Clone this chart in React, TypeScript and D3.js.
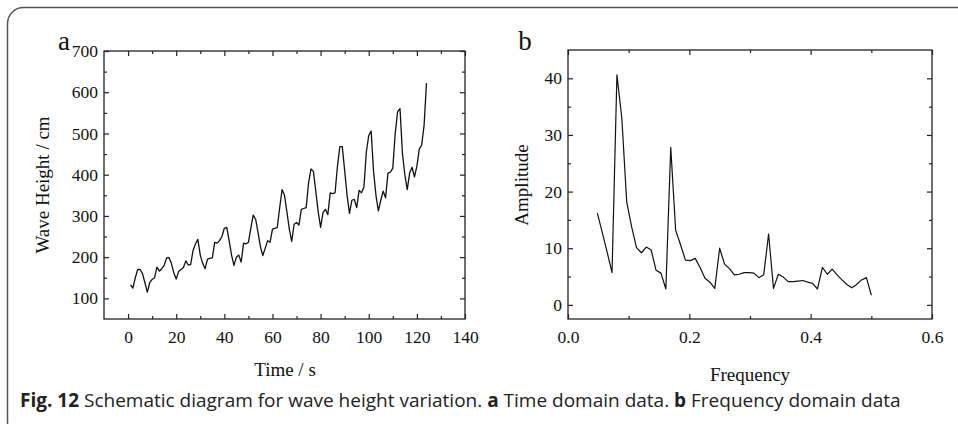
import React, { useEffect, useRef } from "react";
import * as d3 from "d3";

// wave height (cm) sampled once per second, t = 1..124
const waveHeight = [
  133, 125, 150, 170, 170, 160, 138, 115, 138, 146,
  150, 176, 166, 172, 180, 198, 199, 185, 162, 147,
  165, 170, 175, 191, 181, 182, 216, 232, 243, 205,
  185, 172, 195, 197, 198, 236, 234, 240, 250, 270,
  272, 240, 205, 180, 200, 205, 188, 234, 232, 236,
  270, 302, 292, 260, 225, 204, 222, 240, 236, 268,
  270, 272, 320, 364, 350, 310, 268, 238, 280, 284,
  278, 316, 318, 320, 380, 414, 408, 360, 310, 272,
  308, 316, 303, 356, 354, 356, 420, 468, 468, 410,
  350, 306, 338, 340, 320, 362, 356, 370, 455, 495,
  506, 408, 350, 312, 338, 360, 344, 404, 406, 416,
  500, 553, 560, 452, 400, 364, 404, 418, 395, 420,
  462, 472, 520, 622
];
const timeStart = 1;

// spectrum amplitude, frequency = k / 124 for k = 6..62
const ampStartIndex = 6;
const sampleCount = 124;
const amplitude = [
  16.2, 12.8, 9.3, 5.7, 40.6, 33.0, 18.2, 13.8, 10.1, 9.2,
  10.2, 9.7, 6.1, 5.6, 2.8, 27.8, 13.2, 10.6, 7.9, 7.8,
  8.2, 6.6, 4.7, 4.0, 2.9, 10.0, 7.2, 6.4, 5.3, 5.4,
  5.7, 5.7, 5.6, 4.8, 5.3, 12.5, 2.9, 5.4, 4.9, 4.1,
  4.1, 4.2, 4.3, 4.0, 3.8, 2.8, 6.6, 5.4, 6.3, 5.3,
  4.4, 3.6, 3.0, 3.6, 4.4, 4.8, 1.7
];

const timeMajor = [0, 20, 40, 60, 80, 100, 120, 140];
const timeMinor = [10, 30, 50, 70, 90, 110, 130];
const heightMajor = [100, 200, 300, 400, 500, 600, 700];
const heightMinor = [150, 250, 350, 450, 550, 650];
const freqMajor = [0.0, 0.2, 0.4, 0.6];
const freqMinor = [0.1, 0.3, 0.5];
const ampMajor = [0, 10, 20, 30, 40];
const ampMinor = [5, 15, 25, 35];

const serif = "'Liberation Serif', 'DejaVu Serif', serif";

function drawPanel(g, cfg) {
  const { x, y, xMajor, xMinor, yMajor, yMinor, xFormat, yFormat } = cfg;
  const [x0, x1] = x.range();
  const [y0, y1] = y.range();

  // frame
  g.append("rect")
    .attr("x", x0)
    .attr("y", y1)
    .attr("width", x1 - x0)
    .attr("height", y0 - y1)
    .attr("fill", "none")
    .attr("stroke", "#222")
    .attr("stroke-width", 1.3);

  const style = (sel) => {
    sel.select(".domain").remove();
    sel.selectAll("line").attr("stroke", "#222").attr("stroke-width", 1.2);
    sel.selectAll("text").attr("font-family", serif).attr("font-size", 17.5).attr("fill", "#111");
  };

  // bottom & left with labels, inward ticks
  g.append("g")
    .attr("transform", `translate(0,${y0})`)
    .call(d3.axisBottom(x).tickValues(xMajor).tickSize(-5).tickSizeOuter(0).tickPadding(12).tickFormat(xFormat))
    .call(style);
  g.append("g")
    .attr("transform", `translate(0,${y0})`)
    .call(d3.axisBottom(x).tickValues(xMinor).tickSize(-3).tickSizeOuter(0).tickFormat(() => ""))
    .call(style);
  g.append("g")
    .attr("transform", `translate(${x0},0)`)
    .call(d3.axisLeft(y).tickValues(yMajor).tickSize(-5).tickSizeOuter(0).tickPadding(6).tickFormat(yFormat))
    .call(style);
  g.append("g")
    .attr("transform", `translate(${x0},0)`)
    .call(d3.axisLeft(y).tickValues(yMinor).tickSize(-3).tickSizeOuter(0).tickFormat(() => ""))
    .call(style);

  // mirrored top & right, no labels
  g.append("g")
    .attr("transform", `translate(0,${y1})`)
    .call(d3.axisTop(x).tickValues(xMajor).tickSize(-5).tickSizeOuter(0).tickFormat(() => ""))
    .call(style);
  g.append("g")
    .attr("transform", `translate(0,${y1})`)
    .call(d3.axisTop(x).tickValues(xMinor).tickSize(-3).tickSizeOuter(0).tickFormat(() => ""))
    .call(style);
  g.append("g")
    .attr("transform", `translate(${x1},0)`)
    .call(d3.axisRight(y).tickValues(yMajor).tickSize(-5).tickSizeOuter(0).tickFormat(() => ""))
    .call(style);
  g.append("g")
    .attr("transform", `translate(${x1},0)`)
    .call(d3.axisRight(y).tickValues(yMinor).tickSize(-3).tickSizeOuter(0).tickFormat(() => ""))
    .call(style);
}

export default function App() {
  const ref = useRef(null);

  useEffect(() => {
    const root = d3.select(ref.current);
    root.selectAll("*").remove();

    // panel a: time domain
    const xT = d3.scaleLinear().domain([-10, 140]).range([104, 465]);
    const yH = d3.scaleLinear().domain([50, 700]).range([319, 51]);
    const gA = root.append("g");
    drawPanel(gA, {
      x: xT, y: yH,
      xMajor: timeMajor, xMinor: timeMinor,
      yMajor: heightMajor, yMinor: heightMinor,
      xFormat: d3.format("d"), yFormat: d3.format("d")
    });
    const lineA = d3.line()
      .x((d, i) => xT(timeStart + i))
      .y((d) => yH(d));
    gA.append("path")
      .datum(waveHeight)
      .attr("fill", "none")
      .attr("stroke", "#111")
      .attr("stroke-width", 1.3)
      .attr("stroke-linejoin", "round")
      .attr("d", lineA);

    // panel b: frequency domain
    const xF = d3.scaleLinear().domain([0, 0.6]).range([568, 932]);
    const yA = d3.scaleLinear().domain([-2.5, 45]).range([319, 50]);
    const gB = root.append("g");
    drawPanel(gB, {
      x: xF, y: yA,
      xMajor: freqMajor, xMinor: freqMinor,
      yMajor: ampMajor, yMinor: ampMinor,
      xFormat: d3.format(".1f"), yFormat: d3.format("d")
    });
    const lineB = d3.line()
      .x((d, i) => xF((ampStartIndex + i) / sampleCount))
      .y((d) => yA(d));
    gB.append("path")
      .datum(amplitude)
      .attr("fill", "none")
      .attr("stroke", "#111")
      .attr("stroke-width", 1.2)
      .attr("stroke-linejoin", "round")
      .attr("d", lineB);
  }, []);

  return (
    <svg
      width={958}
      height={424}
      style={{ position: "absolute", left: 0, top: 0, background: "#fff" }}
    >
      {/* figure border, cut by the page at right and bottom */}
      <rect x={7.5} y={7.5} width={970} height={430} rx={16} fill="none" stroke="#555" strokeWidth={1.5} />
      <g ref={ref} />
      <g fontFamily={serif} fill="#111">
        <text x={64} y={50} fontSize={27} textAnchor="middle">a</text>
        <text x={525} y={50} fontSize={27} textAnchor="middle">b</text>
        <text x={285} y={376} fontSize={19} textAnchor="middle">Time / s</text>
        <text x={750} y={381} fontSize={19} textAnchor="middle">Frequency</text>
        <text transform="translate(49,185) rotate(-90)" fontSize={19} textAnchor="middle">Wave Height / cm</text>
        <text transform="translate(528,185) rotate(-90)" fontSize={19} textAnchor="middle">Amplitude</text>
      </g>
      <text x={20} y={407} fontFamily="'Open Sans', sans-serif" fontSize={19} fill="#222">
        <tspan fontWeight="bold">Fig. 12</tspan>
        {" Schematic diagram for wave height variation. "}
        <tspan fontWeight="bold">a</tspan>
        {" Time domain data. "}
        <tspan fontWeight="bold">b</tspan>
        {" Frequency domain data"}
      </text>
    </svg>
  );
}
